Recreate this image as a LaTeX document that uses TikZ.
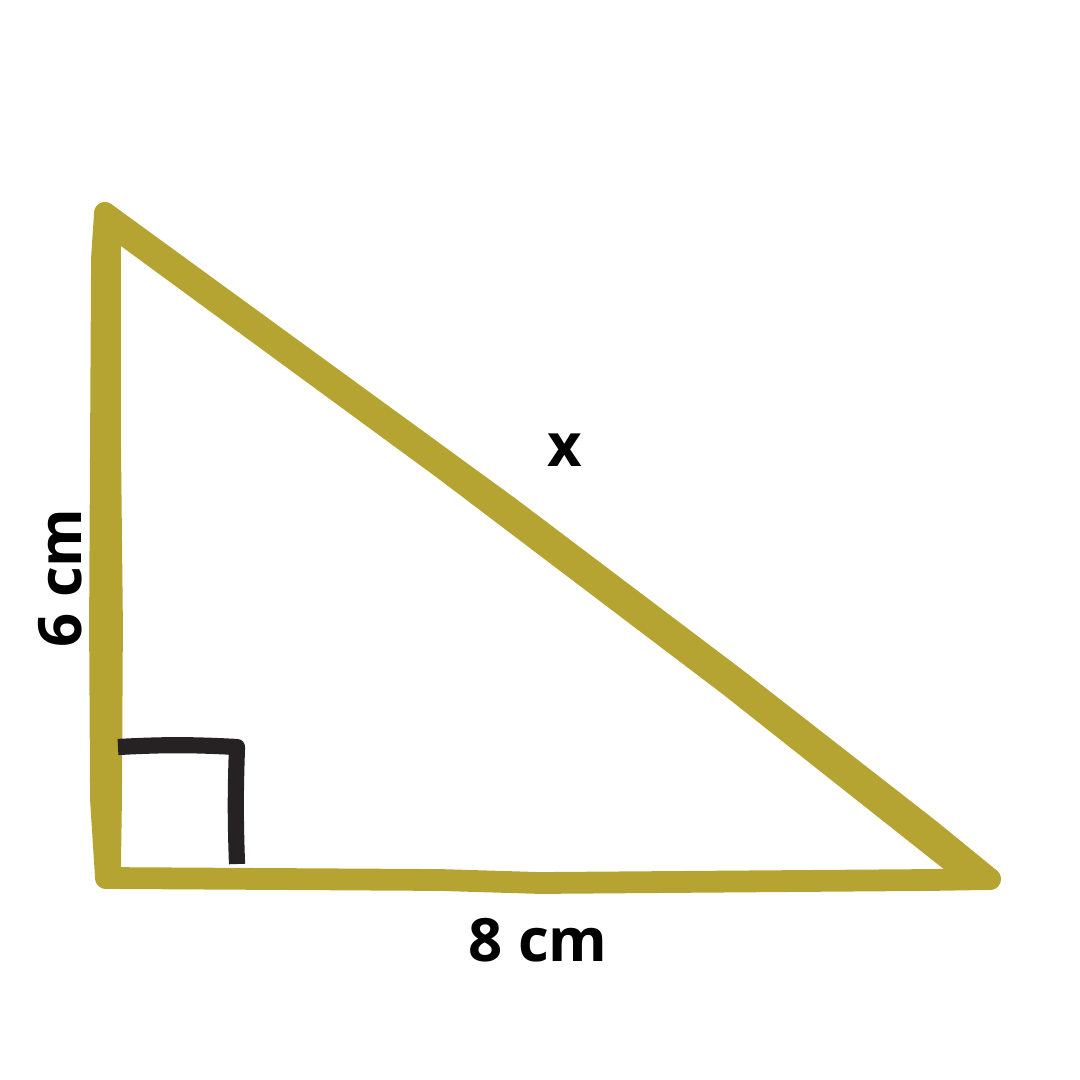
\documentclass[tikz,border=0pt]{standalone}
\usepackage{fontspec}
\setmainfont{Open Sans}
\usepackage{tikz}
\usetikzlibrary{positioning}
\definecolor{olive}{HTML}{B5A432}
\definecolor{inkblack}{HTML}{262223}
\tikzset{side/.style={draw=olive, line width=6.2pt, line cap=round, line join=round},
         rightmark/.style={draw=inkblack, line width=4.6pt, line join=round},
         lbl/.style={font=\fontsize{17}{19}\selectfont\bfseries, inner sep=0pt}}

\begin{document}
\begin{tikzpicture}[x=0.01cm, y=-0.01cm]
      \useasboundingbox (0,0) rectangle (1080,1080);
	
      \coordinate	(A) 	at 	(105,213);
      \coordinate	(B)	 at 	(106,878);
      \coordinate	(C)	 at 	(990,879);
      \coordinate	(M1)	 at 	(237,747);
      \coordinate	(M0)	 at 	(118,747);
      \coordinate	(M2)	 at 	(237,864);

      \draw[side](A) -- (102,258) -- (101,440) -- (100,625) -- (101,800) -- (B) ;
      \draw[side](110,228) -- (110,440) -- (112,625) -- (111,800) -- (110,870) ;
      \draw[side](B) -- (440,880) -- (540,883) -- (930,880) -- (C) ;
      \draw[side](A) -- (440,457) -- (510,508) -- (735,678) -- (930,830) -- (C) ;
      \draw[side](112,226) -- (445,470) -- (730,686) -- (960,868) ;

      \draw[rightmark](M0) to [bend left=3] (M1) to [bend right=2] (M2) ;

      \node[lbl]	(hyp)	 at 	(565,450) 	{x};
      \node[lbl, rotate=90]	(leg1)	 at 	(60,578) 	{6 cm};
      \node[lbl]	(leg2)	 at 	(538,940) 	{8 cm};
      \end{tikzpicture}
\end{document}
